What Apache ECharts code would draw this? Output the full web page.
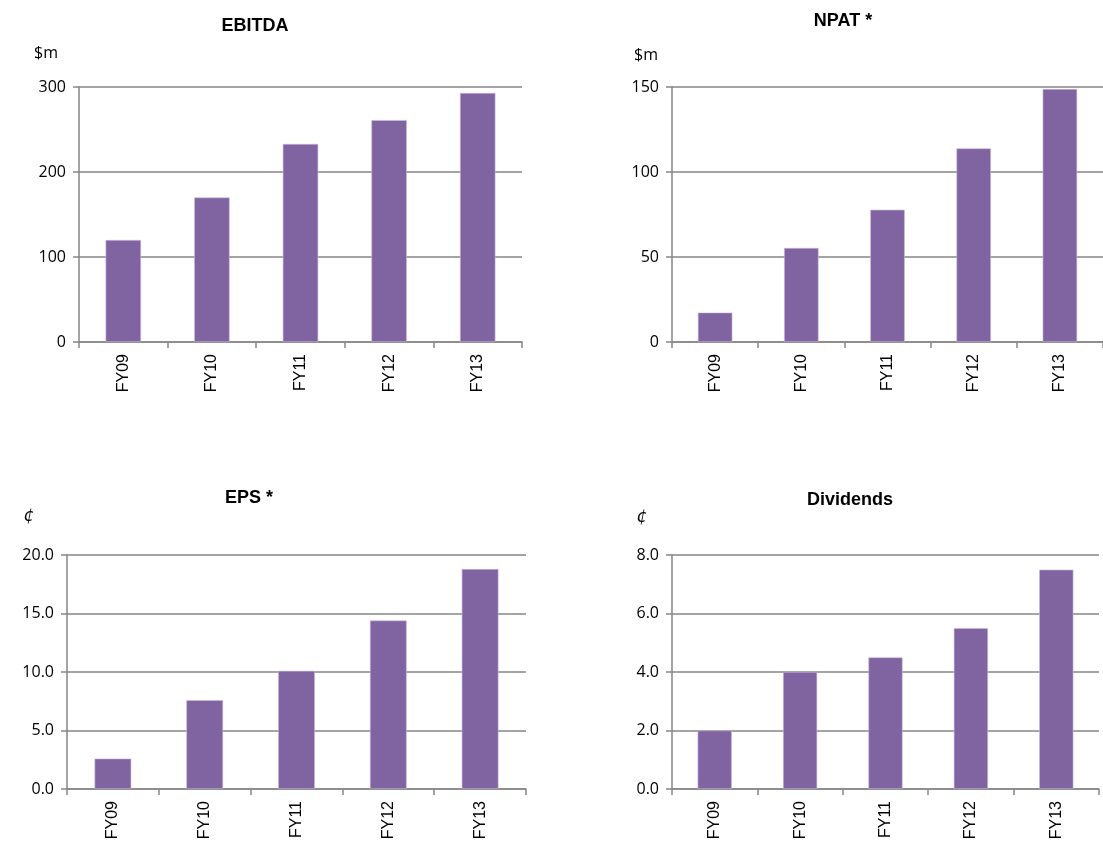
<!DOCTYPE html>
<html>
<head>
<meta charset="utf-8">
<title>Financial highlights</title>
<script src="https://cdn.jsdelivr.net/npm/echarts@6/dist/echarts.min.js"></script>
<style>
  html, body { margin: 0; padding: 0; background: #fff; }
  #chart { width: 1103px; height: 850px; }
</style>
</head>
<body>
<div id="chart"></div>
<script>
const years = ['FY09', 'FY10', 'FY11', 'FY12', 'FY13']
const ebitda = [120, 170, 233, 261, 293]
const npat = [17.3, 55.3, 77.8, 113.9, 148.8]
const eps = [2.6, 7.6, 10.1, 14.4, 18.8]
const dividends = [2.0, 4.0, 4.5, 5.5, 7.5]

const barColor = '#8064a2'
const lineColor = '#868686'

// one panel per chart: grid box, axis range, data
const panels = [
  { title: 'EBITDA', unit: '$m', data: ebitda, max: 300, interval: 100, decimals: 0,
    grid: { left: 79, top: 87, width: 443, height: 255 }, titlePos: [250, 12], unitPos: [46, 53] },
  { title: 'NPAT *', unit: '$m', data: npat, max: 150, interval: 50, decimals: 0,
    grid: { left: 672, top: 87, width: 442, height: 255 }, titlePos: [838, 7], unitPos: [646, 55] },
  { title: 'EPS *', unit: '¢', data: eps, max: 20, interval: 5, decimals: 1,
    grid: { left: 67, top: 555, width: 459, height: 234 }, titlePos: [244, 484], unitPos: [29, 517] },
  { title: 'Dividends', unit: '¢', data: dividends, max: 8, interval: 2, decimals: 1,
    grid: { left: 672, top: 555, width: 427, height: 234 }, titlePos: [845, 486], unitPos: [642, 518] }
]

const option = {
  animation: false,
  title: panels.map(p => ({
    text: p.title,
    left: p.titlePos[0],
    top: p.titlePos[1],
    textAlign: 'center',
    textStyle: { fontFamily: 'Liberation Sans', fontSize: 18, fontWeight: 'bold', color: '#000' }
  })),
  graphic: panels.map(p => ({
    type: 'text',
    x: p.unitPos[0],
    y: p.unitPos[1],
    style: {
      text: p.unit,
      font: p.unit === '¢' ? 'italic 17px "DejaVu Sans"' : '16px "Open Sans"',
      fill: '#000',
      textAlign: 'center',
      textVerticalAlign: 'middle'
    }
  })),
  grid: panels.map(p => p.grid),
  xAxis: panels.map((p, i) => ({
    type: 'category',
    gridIndex: i,
    data: years,
    axisLine: { show: true, lineStyle: { color: lineColor, width: 1.5 } },
    axisTick: { show: true, length: 6, alignWithLabel: false, lineStyle: { color: lineColor, width: 1.5 } },
    axisLabel: { rotate: 90, margin: 12, fontFamily: 'Liberation Sans', fontSize: 16, color: '#000' }
  })),
  yAxis: panels.map((p, i) => ({
    type: 'value',
    gridIndex: i,
    min: 0,
    max: p.max,
    interval: p.interval,
    axisLine: { show: true, lineStyle: { color: lineColor, width: 1.5 } },
    axisTick: { show: true, length: 6, lineStyle: { color: lineColor, width: 1.5 } },
    splitLine: { show: true, lineStyle: { color: lineColor, width: 1.5 } },
    axisLabel: {
      margin: 13,
      fontFamily: 'Open Sans',
      fontSize: 16,
      color: '#000',
      formatter: v => v.toFixed(p.decimals)
    }
  })),
  series: panels.map((p, i) => ({
    type: 'bar',
    xAxisIndex: i,
    yAxisIndex: i,
    data: p.data,
    barCategoryGap: '60%',
    itemStyle: { color: barColor, borderColor: '#c9bcdc', borderWidth: 0.6 }
  }))
}

const chart = echarts.init(document.getElementById('chart'))
chart.setOption(option)
</script>
</body>
</html>
